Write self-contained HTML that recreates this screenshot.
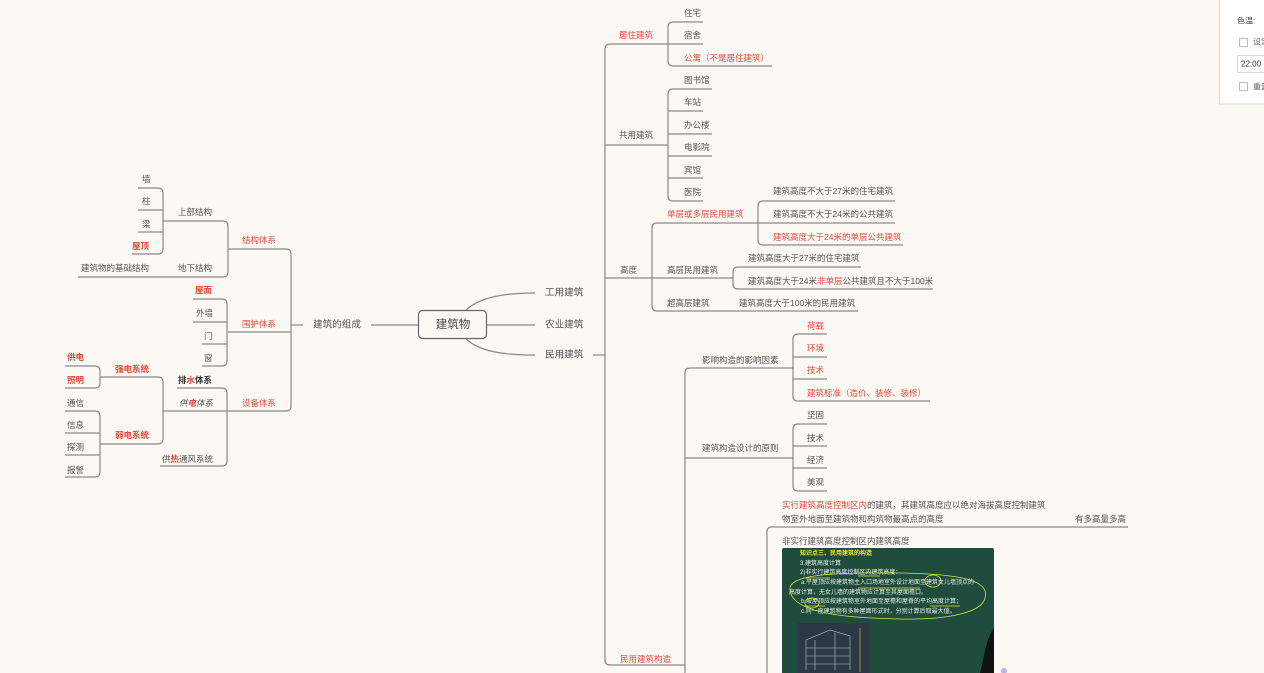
<!DOCTYPE html>
<html><head><meta charset="utf-8"><style>
html,body{margin:0;padding:0;background:#fcf8f3;}
svg{display:block;}
text{font-family:"Liberation Sans","Noto Sans CJK SC",sans-serif;dominant-baseline:central;}
.t{font-size:8.5px;fill:#555;}
.r{font-size:8.5px;fill:#e2493b;}
.rb{font-size:8.5px;fill:#e2493b;font-weight:bold;}
.l1{font-size:9.6px;fill:#555;}
.b{font-size:6px;fill:#e6efe8;}
</style></head><body>
<svg width="1264" height="673" viewBox="0 0 1264 673" xmlns="http://www.w3.org/2000/svg">
<rect width="1264" height="673" fill="#fcf8f3"/>
<g fill="none" stroke="#8a8a8a" stroke-width="1.2">
<!-- center -->
<path d="M466 310 C480 297 505 293 535 293"/>
<path d="M487 325 H535"/>
<path d="M466 339 C480 352 505 355 535 355"/>
<path d="M371 325 H418"/>
<!-- right big bracket -->
<path d="M593 355 H605"/>
<path d="M610 44 Q605 44 605 49 L605 660 Q605 665 610 665 H685"/>
<path d="M610 44 H668"/><path d="M605 145 H668"/><path d="M605 278 H652"/>
<!-- 居住 -->
<path d="M703 22 H673 Q668 22 668 27 L668 61 Q668 66 673 66 H772"/>
<path d="M668 44 H703"/>
<!-- 共用 -->
<path d="M712 89 H673 Q668 89 668 94 L668 196 Q668 201 673 201 H703"/>
<path d="M668 111 H703"/><path d="M668 134 H712"/><path d="M668 156 H712"/><path d="M668 178 H703"/>
<!-- 高度 -->
<path d="M758 223 H657 Q652 223 652 228 L652 306 Q652 311 657 311 H858"/>
<path d="M652 278 H733"/>
<path d="M895 201 H763 Q758 201 758 206 L758 240 Q758 245 763 245 H903"/>
<path d="M758 223 H895"/>
<path d="M861 267 H738 Q733 267 733 272 L733 284 Q733 289 738 289 H933"/>
<!-- 构造 -->
<path d="M793 368 H690 Q685 368 685 373 L685 680"/>
<path d="M685 458 H793"/>
<path d="M827 334 H798 Q793 334 793 339 L793 396 Q793 401 798 401 H930"/>
<path d="M793 357 H827"/><path d="M793 379 H827"/>
<path d="M827 424 H798 Q793 424 793 429 L793 486 Q793 491 798 491 H827"/>
<path d="M793 446 H827"/><path d="M793 468 H827"/>
<path d="M1128 527 H772 Q767 527 767 532 L767 680"/>
<!-- left -->
<path d="M291 325 H303"/>
<path d="M228 249 H286 Q291 249 291 254 L291 406 Q291 411 286 411 H163"/>
<path d="M291 332 H228"/>
<path d="M163 221 H223 Q228 221 228 226 L228 272 Q228 277 223 277 H78"/>
<path d="M138 188 H158 Q163 188 163 193 L163 249 Q163 254 158 254 H132"/>
<path d="M163 210 H138"/><path d="M163 232 H138"/>
<path d="M193 299 H222 Q227 299 227 304 L227 361 Q227 366 222 366 H202"/>
<path d="M227 322 H193"/><path d="M227 344 H202"/>
<path d="M177 388 H222 Q227 388 227 393 L227 461 Q227 466 222 466 H160"/>
<path d="M100 377 H158 Q163 377 163 382 L163 439 Q163 444 158 444 H100"/>
<path d="M65 366 H95 Q100 366 100 371 L100 383 Q100 388 95 388 H65"/>
<path d="M65 411 H95 Q100 411 100 416 L100 472 Q100 477 95 477 H65"/>
<path d="M100 433 H65"/><path d="M100 455 H65"/>
</g>
<rect x="418.5" y="310.5" width="68" height="28" rx="4" fill="#fcf8f3" stroke="#666" stroke-width="1.2"/>
<text x="453" y="325" text-anchor="middle" style="font-size:11.5px;fill:#444">建筑物</text>
<text class="l1" x="545" y="293">工用建筑</text>
<text class="l1" x="545" y="325">农业建筑</text>
<text class="l1" x="545" y="355">民用建筑</text>
<text class="l1" x="313" y="325">建筑的组成</text>
<!-- right texts -->
<text class="r" x="619" y="35">居住建筑</text>
<text class="t" x="684" y="13">住宅</text>
<text class="t" x="684" y="35">宿舍</text>
<text class="r" x="684" y="58">公寓（不是居住建筑）</text>
<text class="t" x="619" y="135">共用建筑</text>
<text class="t" x="684" y="80">图书馆</text>
<text class="t" x="684" y="102">车站</text>
<text class="t" x="684" y="125">办公楼</text>
<text class="t" x="684" y="147">电影院</text>
<text class="t" x="684" y="170">宾馆</text>
<text class="t" x="684" y="192">医院</text>
<text class="t" x="620" y="270">高度</text>
<text class="r" x="667" y="214">单层或多层民用建筑</text>
<text class="t" x="773" y="191">建筑高度不大于27米的住宅建筑</text>
<text class="t" x="773" y="214">建筑高度不大于24米的公共建筑</text>
<text class="r" x="773" y="237">建筑高度大于24米的单层公共建筑</text>
<text class="t" x="667" y="270">高层民用建筑</text>
<text class="t" x="748" y="258">建筑高度大于27米的住宅建筑</text>
<text class="t" x="748" y="281">建筑高度大于24米<tspan fill="#e2493b">非单层</tspan>公共建筑且不大于100米</text>
<text class="t" x="667" y="303">超高层建筑</text>
<text class="t" x="739" y="303">建筑高度大于100米的民用建筑</text>
<text class="t" x="702" y="360">影响构造的影响因素</text>
<text class="r" x="807" y="326">荷载</text>
<text class="r" x="807" y="348">环境</text>
<text class="r" x="807" y="370">技术</text>
<text class="r" x="807" y="393">建筑标准（造价、装修、装修）</text>
<text class="t" x="702" y="448">建筑构造设计的原则</text>
<text class="t" x="807" y="415">坚固</text>
<text class="t" x="807" y="438">技术</text>
<text class="t" x="807" y="460">经济</text>
<text class="t" x="807" y="482">美观</text>
<text class="t" x="782" y="505"><tspan fill="#e2493b">实行建筑高度控制区内</tspan>的建筑，其建筑高度应以绝对海拔高度控制建筑</text>
<text class="t" x="782" y="519">物室外地面至建筑物和构筑物最高点的高度</text>
<text class="t" x="1075" y="519">有多高量多高</text>
<text class="t" x="782" y="541">非实行建筑高度控制区内建筑高度</text>
<text class="r" x="620" y="659">民用建筑构造</text>
<!-- left texts -->
<text class="r" x="242" y="240">结构体系</text>
<text class="r" x="242" y="324">围护体系</text>
<text class="r" x="242" y="403">设备体系</text>
<text class="t" x="178" y="212">上部结构</text>
<text class="t" x="178" y="268">地下结构</text>
<text class="t" x="81" y="268">建筑物的基础结构</text>
<text class="t" x="142" y="179">墙</text>
<text class="t" x="142" y="201">柱</text>
<text class="t" x="142" y="224">梁</text>
<text class="rb" x="132" y="246">屋顶</text>
<text class="rb" x="195" y="290">屋面</text>
<text class="t" x="196" y="313">外墙</text>
<text class="t" x="204" y="336">门</text>
<text class="t" x="204" y="358">窗</text>
<text class="t" x="178" y="380" style="font-weight:bold;fill:#333">排<tspan fill="#e2493b">水</tspan>体系</text>
<text class="t" x="179" y="403" style="font-style:italic">供<tspan fill="#e2493b" font-weight="bold">电</tspan>体系</text>
<text class="t" x="162" y="459">供<tspan fill="#e2493b" font-weight="bold">热</tspan>通风系统</text>
<text class="rb" x="115" y="369">强电系统</text>
<text class="rb" x="115" y="435">弱电系统</text>
<text class="rb" x="67" y="357">供电</text>
<text class="rb" x="67" y="380">照明</text>
<text class="t" x="67" y="403">通信</text>
<text class="t" x="67" y="425">信息</text>
<text class="t" x="67" y="447">探测</text>
<text class="t" x="67" y="470">报警</text>
<!-- board image -->
<rect x="782" y="548" width="212" height="130" rx="2" fill="#1f4c3d"/>
<text x="800" y="554" style="font-size:6px;fill:#f2e640;font-weight:bold">知识点三、民用建筑的构造</text>
<text class="b" x="800" y="564">3.建筑高度计算</text>
<text class="b" x="800" y="573">2)非实行建筑高度控制区内建筑高度：</text>
<text class="b" x="801" y="583">a.平屋顶应按建筑物主入口场地室外设计地面至建筑女儿墙顶点的</text>
<text class="b" x="789" y="593">高度计算，无女儿墙的建筑物应计算至其屋面檐口。</text>
<text class="b" x="801" y="602">b.坡屋顶应按建筑物室外地面至屋檐和屋脊的平均高度计算；</text>
<text class="b" x="801" y="612">c.同一座建筑物有多种屋面形式时，分别计算后取最大值。</text>
<g fill="none" stroke="#d9e24a" stroke-width="0.8">
<path d="M803 578 H830 M858 588 H920 M804 606 H825 M930 606 H960 M858 576 H880"/>
<path d="M790 590 C788 575 830 572 900 573 C960 574 990 580 985 598 C982 612 950 620 900 619 C840 618 792 612 790 590"/>
<ellipse cx="933" cy="581" rx="8" ry="6"/>
<ellipse cx="812" cy="603" rx="7" ry="5"/>
</g>
<rect x="798" y="623" width="72" height="52" fill="#2a3943"/>
<g stroke="#b8c4cc" stroke-width="0.6" fill="none">
<path d="M806 670 V640 L830 630 L850 636 V670 M806 648 H850 M806 656 H850 M806 664 H850 M815 640 V670 M835 633 V670"/>
<path d="M860 628 V672" stroke="#e0d640"/>
</g>
<path d="M994 628 C985 640 984 660 980 673 L994 673 Z" fill="#111"/>
<circle cx="1004" cy="671" r="3" fill="#b9b4e6"/>
<!-- top-right panel -->
<rect x="1219.5" y="-2" width="50" height="106" fill="#fff" stroke="#d8d8d8"/>
<text x="1237" y="21" style="font-size:8px;fill:#444">色温:</text>
<rect x="1239.5" y="38.5" width="8" height="8" fill="#fff" stroke="#aaa" stroke-width="0.8"/>
<text x="1253" y="42" style="font-size:8px;fill:#666">设定</text>
<rect x="1237.5" y="55.5" width="30" height="17" fill="#fff" stroke="#ccc" stroke-width="0.8"/>
<text x="1241" y="64" style="font-size:8px;fill:#333">22:00</text>
<rect x="1239.5" y="82.5" width="8" height="8" fill="#fff" stroke="#aaa" stroke-width="0.8"/>
<text x="1253" y="87" style="font-size:8px;fill:#666">重置</text>
</svg>
</body></html>
